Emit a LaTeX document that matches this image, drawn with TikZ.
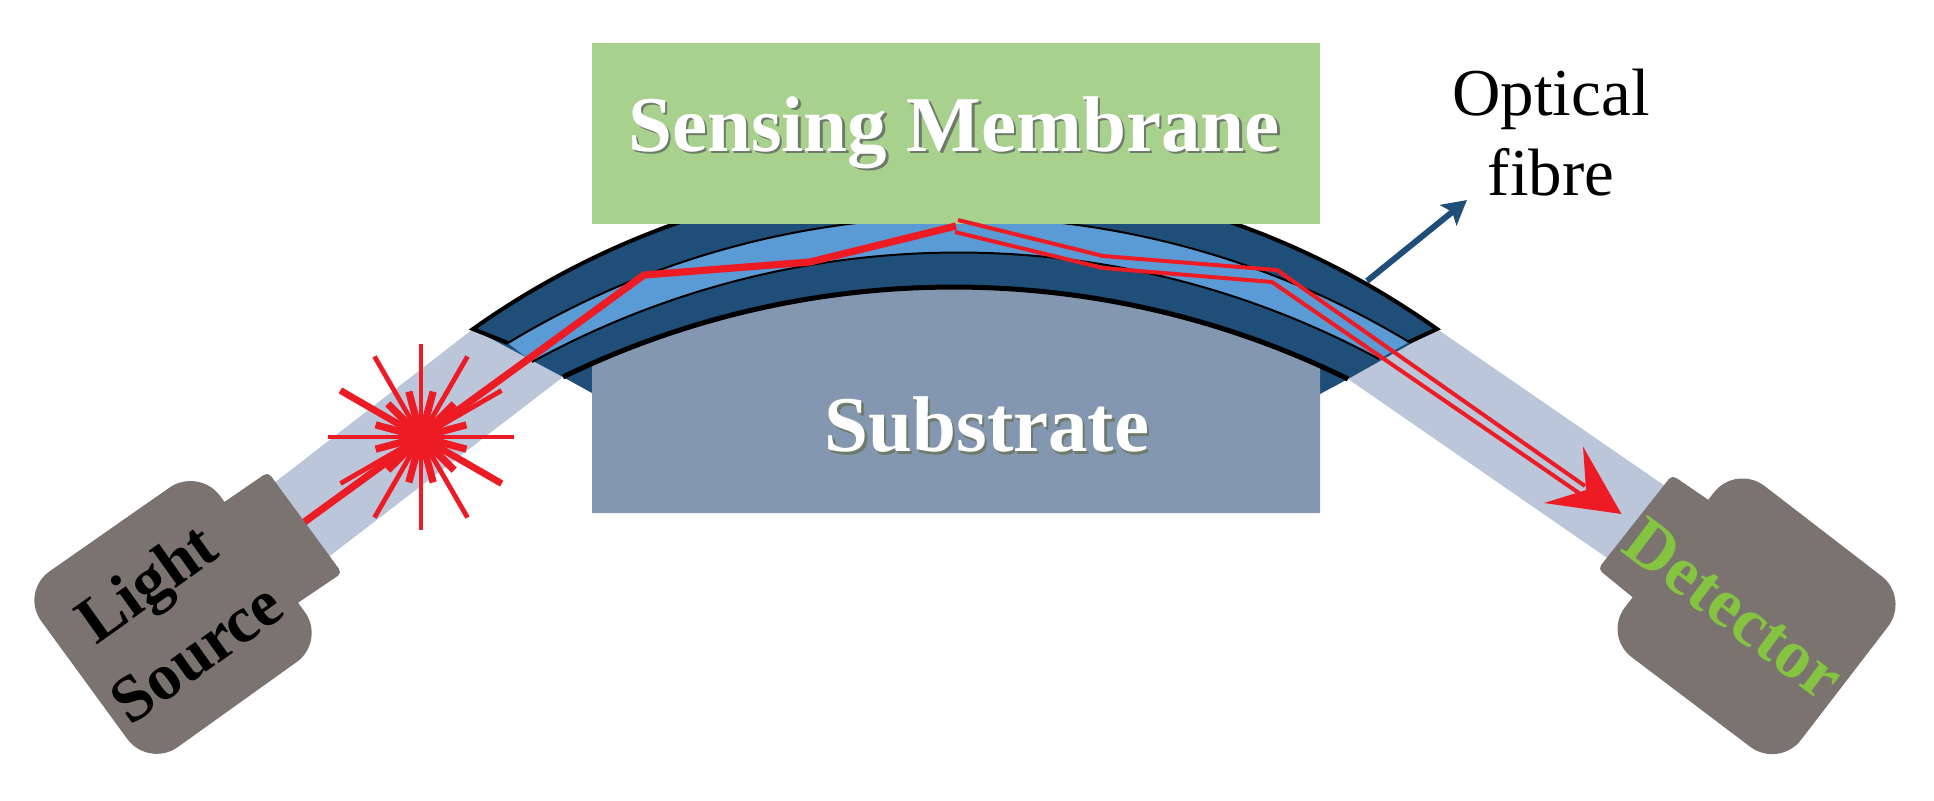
\documentclass[tikz,border=0pt]{standalone}
\usepackage{fontspec}
\setmainfont{Liberation Serif}
\usepackage{xcolor}
\usepackage{tikz}
\usetikzlibrary{arrows.meta}
\definecolor{membranecolor}{HTML}{A7D18C}
\definecolor{substratecolor}{HTML}{8497B0}
\definecolor{beamcolor}{HTML}{BBC6DB}
\definecolor{cladcolor}{HTML}{1F4E79}
\definecolor{corecolor}{HTML}{5B9BD5}
\definecolor{devicecolor}{HTML}{7A7370}
\definecolor{raycolor}{HTML}{ED1C24}
\definecolor{labelgreen}{HTML}{84C441}
\definecolor{shadowcolor}{HTML}{6F7B6A}
\newcommand{\shadowFmt}[1]{\leavevmode\rlap{\kern1.2pt\raisebox{-1.2pt}{\color{shadowcolor}#1}}#1}

\begin{document}
\begin{tikzpicture}[
			x=0.5pt, y=-0.5pt,
			beam/.style={fill=beamcolor},
			device/.style={fill=devicecolor, rounded corners=18pt},
			neck/.style={fill=devicecolor, rounded corners=2.5pt},
			ray/.style={draw=raycolor, line width=3.6pt, line join=miter},
			thinray/.style={draw=raycolor, line width=2pt},
			burst/.style={draw=raycolor, line width=2.4pt},
			bigtext/.style={font=\fontsize{39.5}{40}\selectfont\bfseries, text=white, inner sep=0pt},
			devtext/.style={font=\fontsize{33}{43}\selectfont\bfseries, align=center, inner sep=0pt},
			arca/.style={bend left=35.4, looseness=0.94},
			arcb/.style={bend left=31.2, looseness=0.92},
			arcc/.style={bend left=28.6, looseness=0.907},
			arcd/.style={bend left=26.1, looseness=0.897}
		]
		\useasboundingbox (0,0) rectangle (1934,800);
		% fibre end points, from outside to inside
		\coordinate (al) at (473,329);
		\coordinate (ar) at (1437,329);
		\coordinate (bl) at (508,343);
		\coordinate (br) at (1409,342);
		\coordinate (cl) at (532,362);
		\coordinate (cr) at (1379,359);
		\coordinate (dl) at (563,377);
		\coordinate (dr) at (1348,379);
		% beams
		\coordinate (bsa) at (265,490);
		\coordinate (bsb) at (318,565);
		\coordinate (bda) at (1668,488);
		\coordinate (bdb) at (1613,562);
		\fill[beam] (al) -- (bsa) -- (bsb) -- (dl) -- cycle;
		\fill[beam] (ar) -- (bda) -- (bdb) -- (dr) -- cycle;
		% fibre
		\fill[cladcolor] (al) to[arca] (ar) -- (dr) to[arcd, bend left=-26.1] (dl) -- cycle;
		\fill[corecolor] (bl) to[arcb] (br) -- (cr) to[arcc, bend left=-28.6] (cl) -- cycle;
		\draw[line width=2pt, line join=miter] (bl) -- (al) to[arca] (ar) -- (br);
		\draw[line width=1pt] (bl) to[arcb] (br);
		\draw[line width=1pt] (cl) to[arcc] (cr);
		\coordinate (wl) at (592,393);
		\coordinate (wr) at (1320,394);
		\coordinate (sl) at (592,366);
		\coordinate (sr) at (1320,366);
		\fill[cladcolor] (dl) -- (wl) -- (sl) -- cycle;
		\fill[cladcolor] (dr) -- (wr) -- (sr) -- cycle;
		% blocks
		\node[fill=membranecolor, minimum width=364pt, minimum height=90.5pt, inner sep=0pt] (membrane) at (956,133.5) {};
		\node[bigtext] (membranetext) at (954,134) {\shadowFmt{Sensing Membrane}};
		\coordinate (slb) at (592,513);
		\coordinate (srb) at (1320,513);
		\fill[substratecolor] (slb) -- (sl) to[bend left=24.5, looseness=0.89] (sr) -- (srb) -- cycle;
		\draw[line width=2.5pt] (dl) to[arcd] (dr);
		\node[bigtext] (substratetext) at (987,426) {\shadowFmt{Substrate}};
		% starburst
		\coordinate (centre) at (421,437);
		\foreach \a in {0,30,...,330}
			\draw[burst] (centre) -- ++(\a:93);
		\foreach \a in {15,45,...,345}
			\draw[burst, line width=3.6pt] (centre) -- ++(\a:47);
		\foreach \a in {30,210}
			\draw[burst, line width=3.4pt] (centre) -- ++(\a:93);
		\fill[raycolor] (centre) circle (11pt);
		% rays
		\coordinate (ra) at (303,523);
		\coordinate (rb) at (644,275);
		\coordinate (rc) at (810,262);
		\coordinate (rd) at (956,226);
		\draw[ray] (ra) -- (rb) -- (rc) -- (rd);
		\coordinate (ua) at (958,220);
		\coordinate (ub) at (1103,256);
		\coordinate (uc) at (1277,270);
		\coordinate (ud) at (1585,486);
		\coordinate (la) at (955,232);
		\coordinate (lb) at (1103,268);
		\coordinate (lc) at (1272,282);
		\coordinate (ld) at (1579,493);
		\draw[thinray] (ua) -- (ub) -- (uc) -- (ud);
		\draw[thinray] (la) -- (lb) -- (lc) -- (ld);
		\coordinate (tipa) at (1583,446.5);
		\coordinate (tipb) at (1621.5,514);
		\coordinate (tipc) at (1544,503);
		\coordinate (tipd) at (1586,490);
		\fill[raycolor] (tipa) -- (tipb) -- (tipc) -- (tipd) -- cycle;
		% light source
		\coordinate (s1) at (199,467);
		\coordinate (s2) at (20,592);
		\coordinate (s3) at (148.5,768);
		\coordinate (s4) at (326,641);
		\coordinate (sj1) at (204,516);
		\coordinate (sj2) at (277,617);
		\coordinate (sn2) at (342,573);
		\coordinate (sn1) at (268,472);
		\fill[device] (s1) -- (s2) -- (s3) -- (s4) -- cycle;
		\fill[neck] (sj1) -- (sn1) -- (sn2) -- (sj2) -- cycle;
		\node[devtext, rotate=35.5] (sourcetext) at (171,617) {Light\\Source};
		% detector
		\coordinate (d1) at (1736,464);
		\coordinate (d2) at (1910,598);
		\coordinate (d3) at (1779,768.5);
		\coordinate (d4) at (1603,635.5);
		\coordinate (dj1) at (1729,514);
		\coordinate (dj2) at (1652,613);
		\coordinate (dn2) at (1598,569);
		\coordinate (dn1) at (1672,475);
		\fill[device] (d1) -- (d2) -- (d3) -- (d4) -- cycle;
		\fill[neck] (dj1) -- (dn1) -- (dn2) -- (dj2) -- cycle;
		\node[devtext, font=\fontsize{34.5}{43}\selectfont\bfseries, rotate=-37, text=labelgreen] (detectortext) at (1734,609) {Detector};
		% label
		\node[font=\fontsize{33.5}{40}\selectfont, align=center, inner sep=0pt] (fibretext) at (1551,133) {Optical\\fibre};
		\coordinate (fa) at (1367,281);
		\coordinate (fb) at (1467,200);
		\draw[-{Stealth[length=12pt, width=13pt, inset=2.5pt]}, cladcolor, line width=3pt] (fa) -- (fb);
\end{tikzpicture}
\end{document}
